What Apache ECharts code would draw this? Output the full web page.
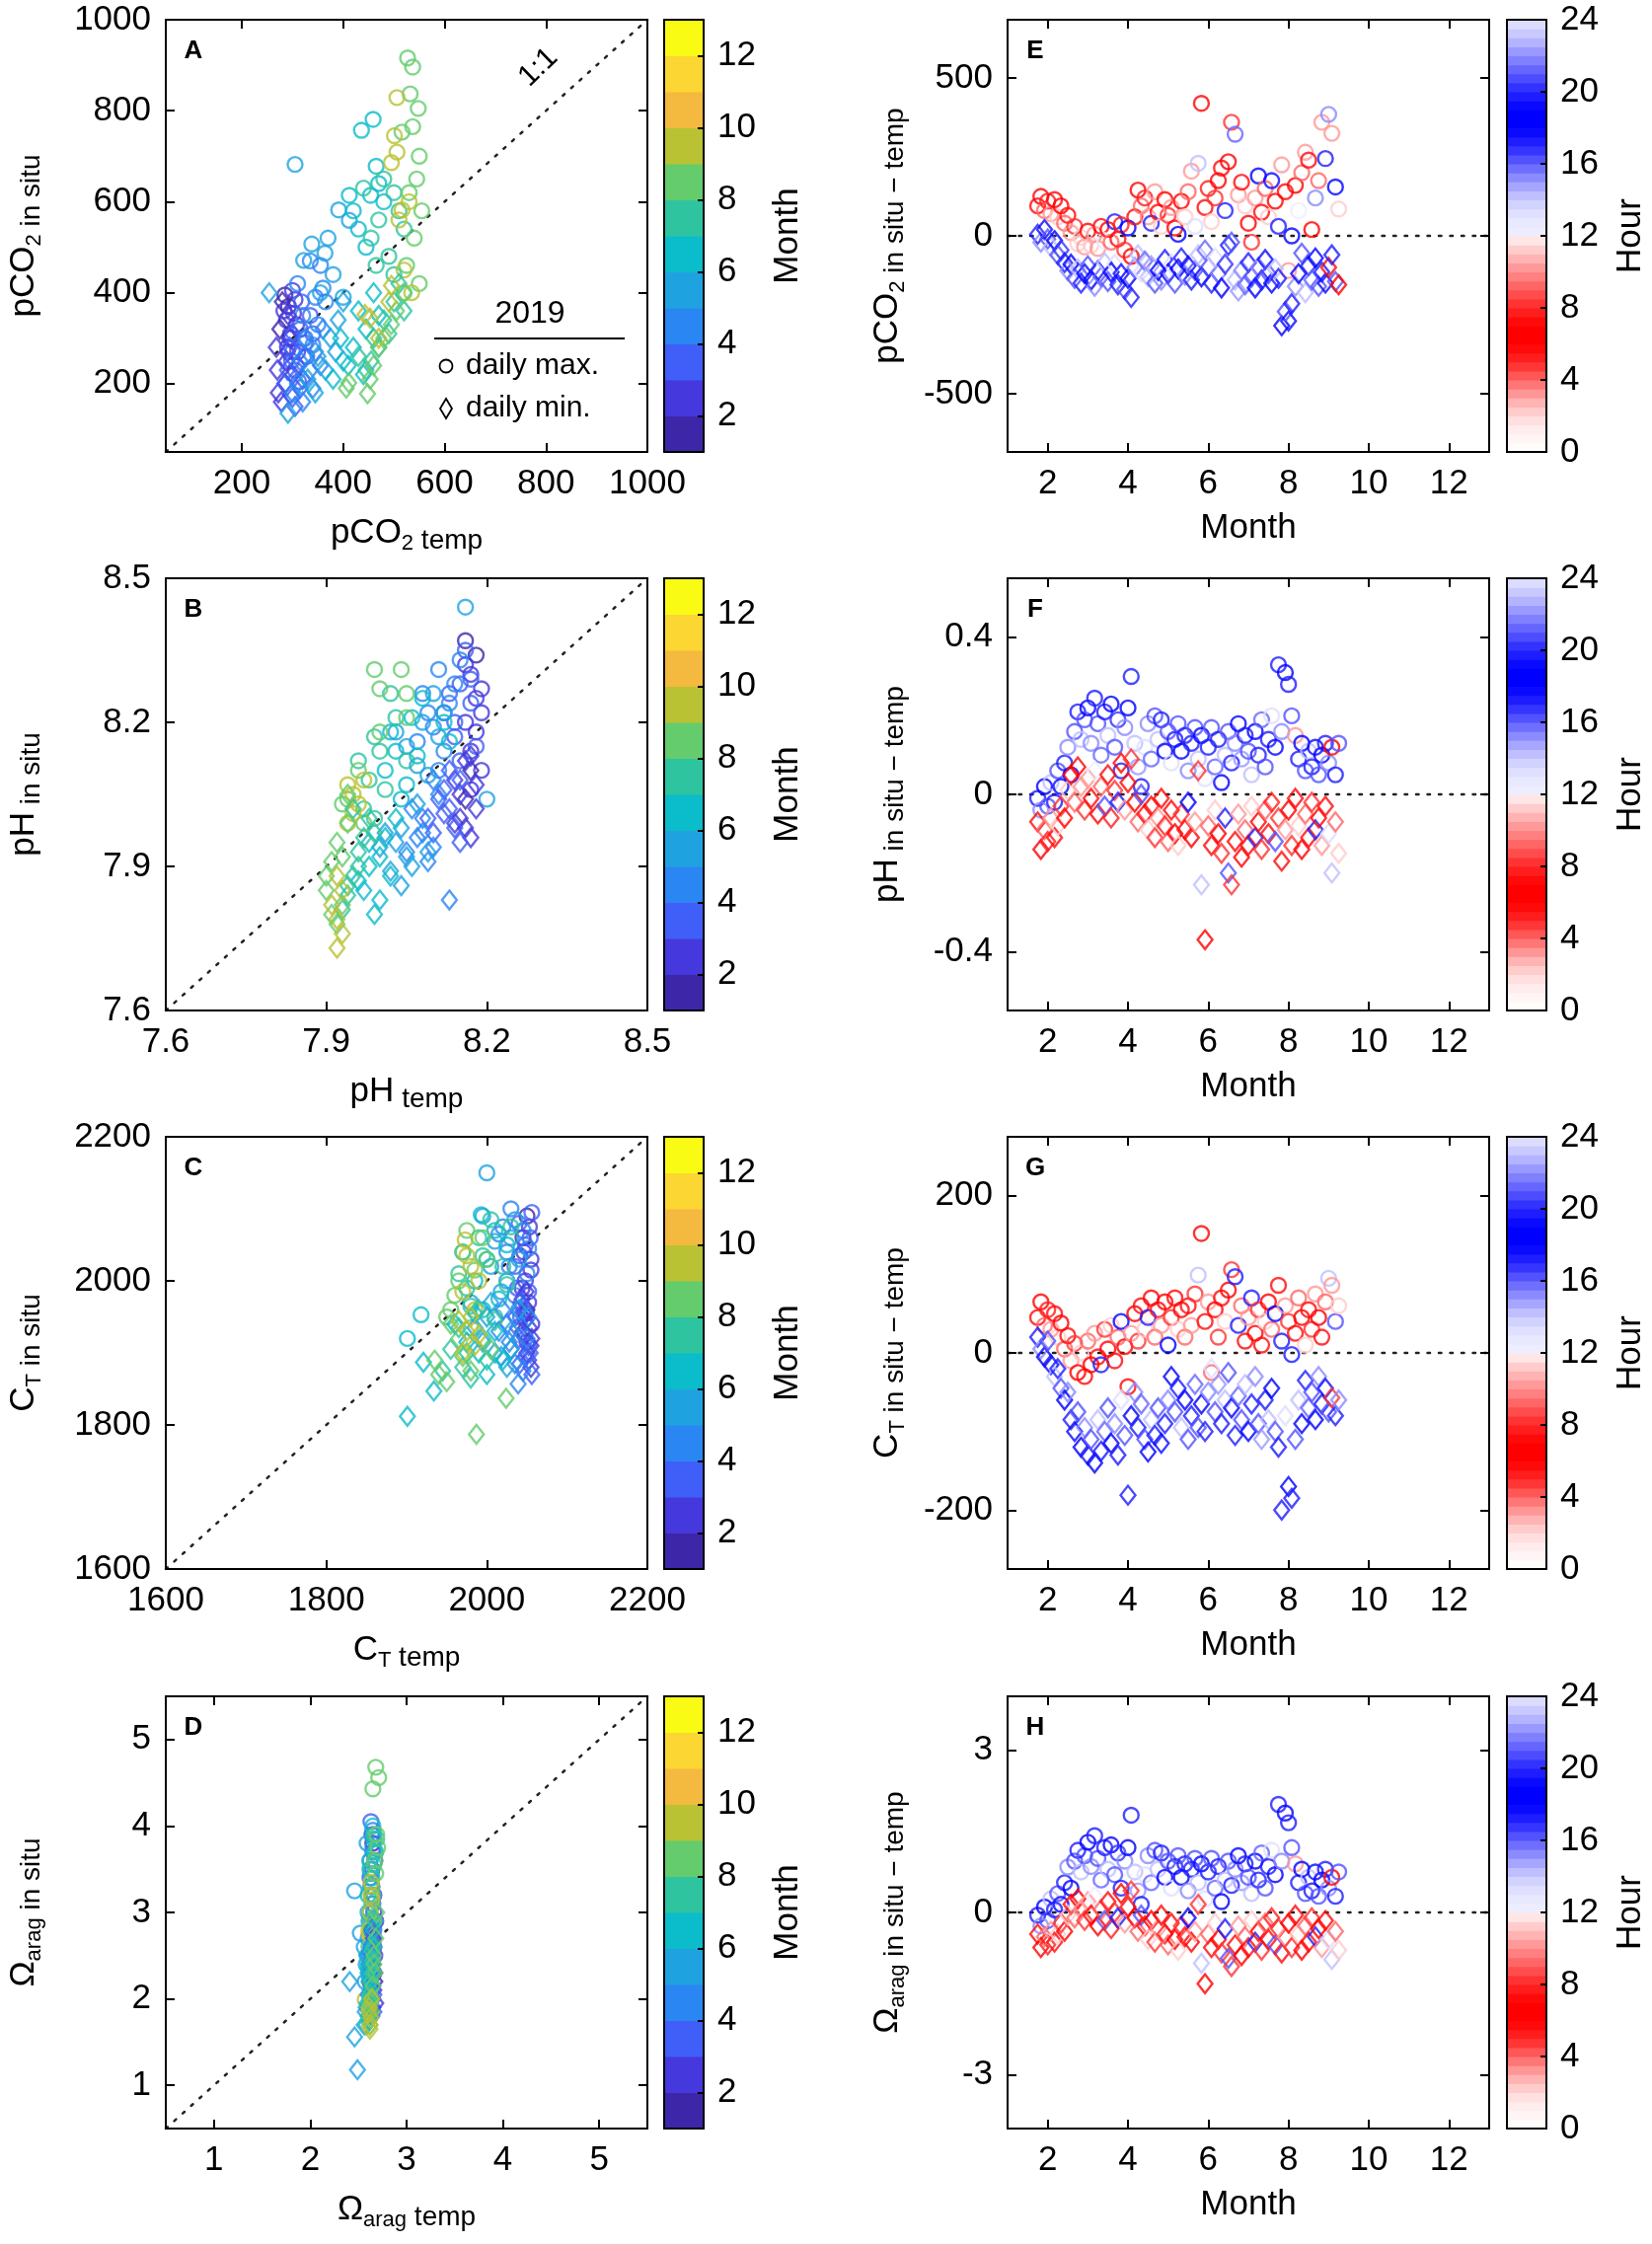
<!DOCTYPE html>
<html>
<head>
<meta charset="utf-8">
<title>In situ vs temperature-normalised carbonate parameters, 2019</title>
<script src="https://cdn.jsdelivr.net/npm/echarts@6/dist/echarts.min.js"></script>
<style>
  html, body { margin: 0; padding: 0; background: #fff; }
  #chart { width: 1674px; height: 2274px; }
</style>
</head>
<body>
<div id="chart"></div>
<script>
// ---------------- data ----------------
// left panels: [temp-normalised value, in situ value, month]
var aMax = [
  [285,395,1.8],[292,370,1.9],[300,405,2.0],[288,340,2.1],[305,385,2.2],[296,310,2.3],[283,360,2.4],[308,330,2.5],[290,280,2.6],[302,355,2.7],[295,300,2.8],[310,270,2.9],
  [298,250,3.0],[315,320,3.1],[305,230,3.2],[325,290,3.3],[300,270,3.4],[335,350,3.5],[312,205,3.6],[328,260,3.7],[318,380,3.8],[340,310,3.9],
  [310,420,4.0],[345,390,4.1],[325,300,4.2],[355,460,4.3],[335,470,4.4],[360,410,4.5],[320,350,4.6],[350,330,4.7],[340,285,4.8],[365,380,4.9],
  [305,682,5.0],[338,507,5.1],[322,471,5.2],[364,487,5.3],[391,582,5.4],[412,559,5.5],[380,440,5.6],[355,400,5.7],[400,390,5.8],[370,520,5.9],
  [436,757,6.0],[459,781,6.1],[412,614,6.2],[465,678,6.3],[454,614,6.4],[430,540,6.5],[470,640,6.6],[445,500,6.7],[420,580,6.8],[480,600,6.9],
  [440,630,7.0],[470,560,7.1],[500,620,7.2],[455,520,7.3],[490,480,7.4],[510,580,7.5],[480,650,7.6],[520,540,7.7],[465,460,7.8],[500,440,7.9],
  [527,916,8.0],[537,896,8.1],[532,837,8.15],[548,805,8.2],[537,765,8.3],[516,753,8.35],[550,700,8.4],[545,650,8.5],[530,620,8.55],[555,580,8.6],[540,520,8.7],[525,460,8.75],[550,420,8.8],[520,400,8.9],
  [506,829,9.0],[501,745,9.05],[495,686,9.1],[516,582,9.12],[506,709,9.15],[530,600,9.2],[520,450,9.22],[535,400,9.25],[510,560,9.3]
];
var aMin = [
  [280,380,1.8],[275,320,1.9],[290,270,2.0],[270,230,2.1],[285,200,2.2],[295,300,2.3],[272,180,2.4],[288,250,2.5],[278,160,2.6],[300,220,2.7],[268,280,2.8],[292,350,2.9],
  [285,200,3.0],[300,170,3.1],[310,240,3.2],[295,280,3.3],[320,210,3.4],[305,150,3.5],[290,230,3.6],[325,260,3.7],[315,190,3.8],[300,310,3.9],
  [300,180,4.0],[320,160,4.1],[335,230,4.2],[310,200,4.3],[345,270,4.4],[325,300,4.5],[355,240,4.6],[315,250,4.7],[340,190,4.8],[360,320,4.9],
  [291,135,5.0],[254,400,5.1],[330,210,5.2],[350,260,5.3],[375,300,5.4],[345,180,5.5],[390,340,5.6],[365,230,5.7],[385,270,5.8],[400,380,5.9],
  [395,300,6.0],[410,240,6.1],[430,360,6.2],[380,210,6.3],[445,320,6.4],[420,280,6.5],[460,400,6.6],[400,250,6.7],[440,220,6.8],[470,350,6.9],
  [430,260,7.0],[460,300,7.1],[480,340,7.2],[445,230,7.3],[500,380,7.4],[470,280,7.5],[510,420,7.6],[455,250,7.7],[490,310,7.8],[520,360,7.9],
  [406,190,8.0],[453,210,8.1],[448,178,8.2],[411,202,8.3],[470,280,8.4],[495,330,8.5],[460,240,8.6],[520,400,8.7],[480,300,8.8],[505,360,8.9],
  [453,344,9.0],[495,416,9.1],[443,352,9.2],[470,300,9.25],[490,380,9.3]
];
var bMax = [
  [8.16,8.37,1.8],[8.18,8.34,1.9],[8.19,8.27,2.0],[8.17,8.30,2.1],[8.19,8.22,2.2],[8.18,8.25,2.3],[8.16,8.32,2.4],[8.18,8.18,2.5],[8.17,8.14,2.6],[8.19,8.10,2.7],[8.16,8.20,2.8],[8.17,8.06,2.9],
  [8.15,8.28,3.0],[8.17,8.24,3.1],[8.14,8.20,3.2],[8.16,8.35,3.3],[8.13,8.26,3.4],[8.18,8.15,3.5],[8.15,8.12,3.6],[8.12,8.22,3.7],[8.17,8.29,3.8],[8.14,8.17,3.9],
  [8.11,8.31,4.0],[8.13,8.24,4.1],[8.10,8.19,4.2],[8.14,8.28,4.3],[8.09,8.22,4.4],[8.12,8.14,4.5],[8.08,8.26,4.6],[8.11,8.10,4.7],[8.15,8.33,4.8],[8.07,8.16,4.9],
  [8.16,8.44,5.0],[8.20,8.04,5.1],[8.08,8.20,5.2],[8.10,8.26,5.3],[8.05,8.15,5.4],[8.12,8.22,5.5],[8.07,8.11,5.6],[8.03,8.18,5.7],[8.09,8.09,5.8],[8.11,8.17,5.9],
  [8.06,8.21,6.0],[8.03,8.14,6.1],[8.08,8.25,6.2],[8.01,8.10,6.3],[8.05,8.07,6.4],[8.12,8.20,6.5],[8.02,8.18,6.6],[8.07,8.13,6.7],[8.13,8.16,6.8],[8.04,8.04,6.9],
  [8.00,8.14,7.0],[7.98,8.08,7.1],[8.03,8.21,7.2],[7.99,8.17,7.3],[8.05,8.12,7.4],[7.97,8.02,7.5],[8.01,8.06,7.6],[7.96,8.12,7.7],[8.02,8.26,7.8],[7.99,8.00,7.9],
  [7.99,8.31,8.0],[8.04,8.31,8.1],[8.00,8.27,8.2],[8.05,8.26,8.3],[8.05,8.21,8.4],[8.00,8.18,8.5],[7.96,8.10,8.6],[7.94,8.04,8.7],[7.97,7.99,8.8],[7.93,8.03,8.9],
  [7.95,8.05,9.0],[7.96,8.03,9.05],[7.94,7.99,9.1],[7.97,8.08,9.15],[7.95,8.01,9.2],[7.94,8.07,9.3]
];
var bMin = [
  [8.17,8.10,1.8],[8.16,8.04,1.9],[8.18,8.07,2.0],[8.15,8.00,2.1],[8.17,8.13,2.2],[8.16,7.98,2.3],[8.18,8.02,2.4],[8.14,8.08,2.5],[8.17,7.96,2.6],[8.15,8.05,2.7],[8.16,8.12,2.8],[8.14,7.99,2.9],
  [8.13,8.02,3.0],[8.15,7.95,3.1],[8.12,8.06,3.2],[8.14,7.98,3.3],[8.11,8.04,3.4],[8.13,8.10,3.5],[8.10,7.97,3.6],[8.12,8.01,3.7],[8.15,8.08,3.8],[8.09,8.00,3.9],
  [8.10,7.94,4.0],[8.08,8.00,4.1],[8.11,8.05,4.2],[8.07,7.96,4.3],[8.09,7.91,4.4],[8.13,7.83,4.5],[8.06,8.02,4.6],[8.08,7.97,4.7],[8.05,7.93,4.8],[8.10,8.08,4.9],
  [8.09,7.93,5.0],[8.04,7.98,5.1],[8.06,7.90,5.2],[8.03,7.95,5.3],[8.07,8.03,5.4],[8.02,7.89,5.5],[8.05,7.92,5.6],[8.01,7.97,5.7],[8.04,7.86,5.8],[8.00,7.94,5.9],
  [8.02,7.88,6.0],[7.99,7.80,6.1],[8.00,7.92,6.2],[7.97,7.85,6.3],[8.01,7.96,6.4],[7.98,7.90,6.5],[8.03,8.00,6.6],[7.96,7.87,6.7],[8.00,7.83,6.8],[7.98,7.95,6.9],
  [7.96,7.90,7.0],[7.94,7.84,7.1],[7.97,7.96,7.2],[7.95,7.88,7.3],[7.98,8.00,7.4],[7.93,7.81,7.5],[7.96,7.93,7.6],[7.94,7.86,7.7],[7.99,7.97,7.8],[7.95,8.02,7.9],
  [7.92,7.95,8.0],[7.90,7.88,8.1],[7.93,7.82,8.2],[7.91,7.91,8.3],[7.94,7.99,8.4],[7.92,7.78,8.5],[7.90,7.85,8.6],[7.93,7.92,8.7],[7.91,7.80,8.8],[7.94,8.05,8.9],
  [7.92,7.73,9.0],[7.93,7.76,9.05],[7.91,7.82,9.1],[7.92,7.79,9.15],[7.93,7.85,9.2],[7.92,7.88,9.3]
];
var cMax = [
  [2050,2090,1.8],[2045,2060,1.9],[2055,2030,2.0],[2048,2000,2.1],[2052,1970,2.2],[2044,1990,2.3],[2056,1940,2.4],[2050,1915,2.5],[2046,2040,2.6],[2053,2075,2.7],[2049,1955,2.8],[2055,2015,2.9],
  [2040,2080,3.0],[2048,2050,3.1],[2035,2020,3.2],[2052,1985,3.3],[2042,1950,3.4],[2056,2095,3.5],[2038,1990,3.6],[2047,1925,3.7],[2054,2060,3.8],[2041,2035,3.9],
  [2030,2100,4.0],[2045,2070,4.1],[2025,2040,4.2],[2050,2010,4.3],[2035,1980,4.4],[2020,2075,4.5],[2040,1960,4.6],[2028,2020,4.7],[2052,2045,4.8],[2015,2065,4.9],
  [2000,2150,5.0],[2035,2085,5.1],[2010,2055,5.2],[2025,2000,5.3],[1995,2090,5.4],[2040,2030,5.5],[1980,1970,5.6],[2018,1985,5.7],[2030,2060,5.8],[2005,2020,5.9],
  [1901,1920,6.0],[1918,1953,6.1],[1993,2092,6.2],[2010,2070,6.3],[2000,2030,6.4],[1985,2000,6.5],[2025,2050,6.6],[1970,2040,6.7],[2015,1975,6.8],[1995,1960,6.9],
  [2005,2085,7.0],[1990,2060,7.1],[2020,2020,7.2],[1975,1990,7.3],[2030,2075,7.4],[1965,2010,7.5],[2010,1950,7.6],[1995,2035,7.7],[2025,1995,7.8],[1980,1965,7.9],
  [1960,1980,8.0],[1970,2040,8.1],[1985,2015,8.2],[1955,1960,8.3],[1995,2060,8.4],[1965,2000,8.5],[1980,1935,8.6],[2000,2030,8.7],[1950,1950,8.8],[1975,2070,8.9],
  [1973,2057,9.0],[1980,2020,9.05],[1970,1985,9.1],[1985,1960,9.15],[1975,2035,9.2],[1990,2000,9.3]
];
var cMin = [
  [2050,1960,1.8],[2045,1930,1.9],[2055,1910,2.0],[2048,1945,2.1],[2052,1890,2.2],[2044,1975,2.3],[2056,1920,2.4],[2050,1900,2.5],[2046,1955,2.6],[2053,1935,2.7],[2049,1985,2.8],[2055,1880,2.9],
  [2040,1920,3.0],[2048,1895,3.1],[2035,1950,3.2],[2052,1910,3.3],[2042,1970,3.4],[2056,1870,3.5],[2038,1935,3.6],[2047,1960,3.7],[2054,1900,3.8],[2041,1885,3.9],
  [2030,1905,4.0],[2039,1857,4.1],[2025,1940,4.2],[2050,1920,4.3],[2035,1885,4.4],[2020,1960,4.5],[2045,1875,4.6],[2028,1915,4.7],[2052,1950,4.8],[2015,1930,4.9],
  [2010,1900,5.0],[2030,1930,5.1],[2000,1950,5.2],[2025,1880,5.3],[1995,1915,5.4],[2040,1960,5.5],[1985,1935,5.6],[2018,1895,5.7],[2005,1970,5.8],[2030,1905,5.9],
  [1934,1847,6.0],[1901,1812,6.1],[1921,1887,6.2],[1990,1900,6.3],[2010,1930,6.4],[1975,1915,6.5],[2000,1870,6.6],[1960,1940,6.7],[2020,1890,6.8],[1985,1955,6.9],
  [1970,1880,7.0],[1995,1920,7.1],[1955,1905,7.2],[2010,1945,7.3],[1980,1865,7.4],[1965,1935,7.5],[2000,1890,7.6],[1945,1875,7.7],[1990,1960,7.8],[1975,1900,7.9],
  [1987,1787,8.0],[2024,1837,8.1],[1950,1860,8.2],[1935,1890,8.3],[1965,1920,8.4],[1980,1875,8.5],[1955,1940,8.6],[2005,1905,8.7],[1940,1870,8.8],[1970,1895,8.9],
  [1975,1930,9.0],[1985,1910,9.05],[1965,1945,9.1],[1990,1925,9.15],[1980,1950,9.2],[1970,1900,9.3]
];
var dMax = [
  [2.65,3.8,1.8],[2.67,3.6,1.9],[2.64,3.3,2.0],[2.66,3.0,2.1],[2.65,2.7,2.2],[2.67,2.5,2.3],[2.64,3.5,2.4],[2.66,2.3,2.5],[2.65,3.9,2.6],[2.68,2.9,2.7],[2.64,2.6,2.8],[2.66,3.2,2.9],
  [2.63,4.05,3.0],[2.65,3.7,3.1],[2.62,3.4,3.2],[2.66,2.8,3.3],[2.63,2.4,3.4],[2.65,3.1,3.5],[2.62,2.2,3.6],[2.64,3.9,3.7],[2.66,2.6,3.8],[2.63,3.3,3.9],
  [2.62,3.6,4.0],[2.64,2.9,4.1],[2.61,2.5,4.2],[2.65,3.95,4.3],[2.62,2.2,4.4],[2.64,3.2,4.5],[2.60,2.7,4.6],[2.63,3.45,4.7],[2.61,2.35,4.8],[2.65,3.75,4.9],
  [2.46,3.25,5.0],[2.52,2.76,5.1],[2.60,3.0,5.2],[2.58,2.4,5.3],[2.62,3.5,5.4],[2.57,2.2,5.5],[2.61,2.9,5.6],[2.59,3.8,5.7],[2.56,2.6,5.8],[2.63,3.3,5.9],
  [2.62,3.6,6.0],[2.65,4.0,6.1],[2.60,3.2,6.2],[2.63,2.8,6.3],[2.66,3.85,6.4],[2.59,2.5,6.5],[2.64,3.4,6.6],[2.61,2.3,6.7],[2.67,3.7,6.8],[2.62,3.0,6.9],
  [2.66,3.9,7.0],[2.63,3.5,7.1],[2.68,3.7,7.2],[2.61,2.6,7.3],[2.65,3.2,7.4],[2.69,3.85,7.5],[2.62,2.9,7.6],[2.66,3.55,7.7],[2.60,2.4,7.8],[2.64,3.1,7.9],
  [2.68,4.68,8.0],[2.71,4.56,8.1],[2.65,4.43,8.2],[2.69,3.9,8.3],[2.67,3.6,8.4],[2.70,3.75,8.5],[2.64,3.3,8.6],[2.66,2.9,8.7],[2.68,3.45,8.8],[2.63,2.7,8.9],
  [2.63,3.2,9.0],[2.62,3.0,9.05],[2.61,2.8,9.1],[2.63,3.35,9.12],[2.64,3.15,9.15],[2.61,2.75,9.2],[2.64,2.1,9.22],[2.62,2.2,9.25],[2.57,1.99,9.3]
];
var dMin = [
  [2.65,2.4,1.8],[2.67,2.2,1.9],[2.64,2.0,2.0],[2.66,2.6,2.1],[2.65,1.9,2.2],[2.67,2.3,2.3],[2.64,2.8,2.4],[2.66,2.1,2.5],[2.65,2.5,2.6],[2.68,1.95,2.7],[2.64,2.35,2.8],[2.66,2.7,2.9],
  [2.63,2.3,3.0],[2.65,2.0,3.1],[2.62,2.55,3.2],[2.66,1.85,3.3],[2.63,2.15,3.4],[2.65,2.75,3.5],[2.62,1.9,3.6],[2.64,2.45,3.7],[2.66,2.05,3.8],[2.63,2.6,3.9],
  [2.62,2.2,4.0],[2.64,1.8,4.1],[2.61,2.4,4.2],[2.65,2.65,4.3],[2.62,1.95,4.4],[2.64,2.3,4.5],[2.60,2.05,4.6],[2.63,2.5,4.7],[2.61,1.75,4.8],[2.65,2.15,4.9],
  [2.41,2.2,5.0],[2.46,1.56,5.1],[2.49,1.18,5.2],[2.58,1.9,5.3],[2.60,2.3,5.4],[2.56,1.7,5.5],[2.62,2.05,5.6],[2.59,2.5,5.7],[2.57,1.85,5.8],[2.61,2.2,5.9],
  [2.62,2.1,6.0],[2.60,1.8,6.1],[2.63,2.4,6.2],[2.59,1.95,6.3],[2.64,2.6,6.4],[2.61,2.25,6.5],[2.58,1.7,6.6],[2.62,2.0,6.7],[2.65,2.8,6.8],[2.60,2.35,6.9],
  [2.64,2.3,7.0],[2.61,1.9,7.1],[2.66,2.6,7.2],[2.62,2.05,7.3],[2.65,2.45,7.4],[2.60,1.75,7.5],[2.63,2.2,7.6],[2.67,2.9,7.7],[2.61,1.95,7.8],[2.64,2.55,7.9],
  [2.66,2.4,8.0],[2.63,2.0,8.1],[2.68,2.7,8.2],[2.64,1.85,8.3],[2.67,2.3,8.4],[2.62,1.7,8.5],[2.65,2.15,8.6],[2.69,3.0,8.7],[2.63,1.95,8.8],[2.66,2.5,8.9],
  [2.63,1.78,9.0],[2.62,1.7,9.05],[2.62,1.65,9.1],[2.61,1.9,9.15],[2.64,2.0,9.2],[2.61,1.85,9.3]
];

// right panels: one value per sampled day, and the hour at which it occurred
var dayMonth = [1.75,1.83,1.92,2.00,2.08,2.17,2.25,2.33,2.42,2.50,
  2.58,2.67,2.75,2.83,2.92,3.00,3.08,3.17,3.25,3.33,
  3.42,3.50,3.58,3.67,3.75,3.83,3.92,4.00,4.08,4.17,
  4.25,4.33,4.42,4.50,4.58,4.67,4.75,4.83,4.92,5.00,
  5.08,5.17,5.25,5.33,5.42,5.50,5.58,5.67,5.75,5.83,
  5.92,6.00,6.08,6.17,6.25,6.33,6.42,6.50,6.58,6.67,
  6.75,6.83,6.92,7.00,7.08,7.17,7.25,7.33,7.42,7.50,
  7.58,7.67,7.75,7.83,7.92,8.00,8.08,8.17,8.25,8.33,
  8.42,8.50,8.58,8.67,8.75,8.83,8.92,9.00,9.08,9.17,9.25];

var eMax = [95,125,80,110,70,115,60,95,40,65, 10,30,-25,-5,-35,15,-30,5,-40,30, -15,20,-20,45,-10,35,-45,25,-65,60,
  145,95,120,60,40,140,75,30,115,65, 90,25,5,110,60,140,205,30,230,420, 90,150,45,120,175,215,80,235,360,322,
  130,170,95,40,-20,120,190,75,150,60, 175,110,30,225,140,-110,0,160,80,200, 265,240,20,120,175,360,245,385,325,155, 85];
var eMaxHour = [7,6,9,5,10,7,11,6,9,7, 10,8,11,2,10,7,11,3,10,7, 12,6,9,17,7,5,8,18,6,7,
  6,9,5,10,17,10,7,11,6,8, 10,7,18,6,11,9,10,13,14,6, 7,5,11,8,6,7,17,6,8,21,
  10,7,11,6,8,10,18,7,9,11, 19,6,17,10,7,10,18,6,12,9, 10,7,6,15,9,10,17,15,10,18, 11];
var eMin = [5,-20,20,-10,-35,-15,-60,-45,-85,-110, -90,-135,-105,-150,-120,-95,-140,-160,-110,-130, -85,-145,-115,-90,-155,-120,-170,-135,-195,-100,
  -60,-115,-80,-130,-95,-150,-110,-140,-75,-120, -90,-150,-105,-70,-125,-95,-140,-110,-60,-130, -45,-100,-150,-70,-120,-165,-90,-30,-20,-140,
  -175,-110,-155,-85,-130,-165,-100,-140,-75,-120, -150,-105,-135,-285,-240,-270,-215,-160,-120,-55, -180,-95,-140,-70,-160,-115,-150,-100,-60,-145, -155];
var eMinHour = [17,15,19,16,14,18,16,20,17,15, 18,16,14,17,19,16,18,15,17,21, 14,16,18,13,17,19,16,18,17,15,
  14,13,21,14,22,16,18,15,17,19, 13,16,18,17,15,19,17,16,14,18, 21,16,17,13,15,18,20,17,16,14,
  22,15,21,17,16,18,15,17,19,16, 18,14,17,18,16,19,17,15,18,16, 14,17,21,18,16,17,19,7,17,16, 6];

var fMax = [-0.01,-0.04,0.02,-0.03,0.03,-0.02,0.06,0.02,0.08,0.12, 0.05,0.16,0.21,0.14,0.19,0.22,0.13,0.245,0.18,0.10,
  0.21,0.15,0.23,0.12,0.19,0.06,0.17,0.22,0.30,0.13, 0.07,0.02,0.12,0.18,0.09,0.20,0.14,0.19,0.11,0.16,
  0.08,0.14,0.18,0.11,0.15,0.06,0.13,0.17,0.09,0.15, 0.04,0.12,0.17,0.07,0.14,0.03,0.10,0.16,0.08,0.13,
  0.18,0.09,0.15,0.11,0.05,0.16,0.10,0.19,0.07,0.14, 0.20,0.12,0.33,0.16,0.31,0.28,0.20,0.15,0.09,0.13,
  0.06,0.11,0.07,0.12,0.05,0.10,0.13,0.08,0.12,0.05, 0.13];
var fMin = [-0.07,-0.14,-0.09,-0.12,-0.06,-0.11,-0.08,-0.03,-0.06,0.01, 0.05,-0.02,0.07,0.02,-0.04,0.04,-0.01,0.06,-0.05,0.02,
  -0.03,0.05,-0.06,0.01,-0.02,0.08,-0.04,0.03,0.09,-0.02, -0.07,0.00,-0.05,-0.09,-0.03,-0.11,-0.06,-0.01,-0.08,-0.12,
  -0.04,-0.10,-0.13,-0.05,-0.09,-0.02,-0.11,-0.07,0.06,-0.23, -0.37,-0.08,-0.13,-0.04,-0.10,-0.15,-0.06,-0.20,-0.23,-0.12,
  -0.05,-0.16,-0.09,-0.13,-0.03,-0.11,-0.07,-0.14,-0.04,-0.10, -0.02,-0.12,-0.06,-0.17,-0.09,-0.04,-0.13,-0.01,-0.08,-0.14,
  -0.05,-0.11,-0.02,-0.09,-0.06,-0.13,-0.03,-0.10,-0.20,-0.07, -0.15];
// hours of the pH / aragonite extremes (the two coincide)
var phMaxHour = [17,15,18,16,14,17,16,19,17,15, 18,16,17,14,16,18,15,17,16,21, 17,14,18,16,20,17,15,18,17,14,
  22,17,13,15,21,16,14,17,18,16, 13,17,16,18,17,15,17,16,14,18, 13,17,16,21,17,18,14,16,17,15,
  18,22,17,16,14,18,17,21,16,17, 13,18,17,15,18,17,16,10,17,18, 16,14,17,19,16,18,17,15,6,17, 16];
var phMinHour = [7,6,9,5,10,7,2,8,6,11, 7,9,6,3,8,10,7,12,6,9, 16,7,5,8,17,6,10,7,8,6,
  9,16,7,11,6,8,10,7,5,9, 7,6,11,8,7,18,6,10,8,14, 6,9,7,11,6,8,17,16,8,7,
  10,6,9,7,11,17,6,8,9,7, 5,16,8,7,10,6,8,7,11,6, 9,7,8,17,6,10,7,13,14,9, 11];

var gMax = [45,65,35,55,30,50,20,38,5,22, -10,12,-25,0,-30,15,-15,25,-5,-15, 30,5,35,-10,20,40,8,-43,25,50,
  15,60,30,45,70,20,55,35,65,10, 45,70,30,55,20,60,35,75,99,152, 40,65,-25,55,20,70,40,80,106,97,
  35,60,15,45,70,25,55,10,40,65, 30,50,86,15,60,40,-2,25,70,45, 10,55,30,75,45,20,65,95,86,40, 60];
var gMaxHour = [7,6,9,5,10,7,11,6,9,7, 10,8,6,11,7,9,6,10,7,17, 8,6,11,7,9,18,6,7,10,6,
  8,7,11,17,6,9,7,10,6,18, 8,7,11,6,9,7,10,8,14,6, 7,10,9,6,8,7,11,6,8,17,
  17,9,7,10,17,6,8,7,11,6, 9,18,7,17,10,8,17,7,9,6, 11,7,8,10,6,7,9,14,10,16, 11];
var gMin = [20,5,-5,15,-15,-30,-20,-45,-60,-50, -85,-100,-75,-120,-95,-130,-110,-140,-85,-125, -100,-70,-115,-90,-130,-60,-105,-181,-80,-50,
  -95,-65,-110,-126,-85,-105,-70,-115,-90,-60, -30,-75,-45,-95,-60,-110,-80,-40,-95,-65, -100,-50,-20,-75,-40,-90,-60,-25,-70,-105,
  -55,-85,-40,-100,-65,-30,-90,-110,-60,-85, -45,-100,-120,-200,-80,-170,-185,-110,-60,-90, -35,-70,-50,-85,-30,-65,-45,-75,-57,-80, -60];
var gMinHour = [17,15,18,16,19,14,17,16,18,15, 17,19,16,18,15,17,16,18,14,17, 21,16,18,15,17,13,16,17,18,15,
  17,21,16,18,14,17,16,19,17,15, 18,16,17,14,18,16,17,21,16,18, 17,15,13,16,22,17,14,16,18,17,
  21,16,14,18,17,15,16,22,17,14, 18,16,17,17,13,18,17,16,14,18, 17,21,16,18,15,17,19,16,8,17, 15];

var hMax = [-0.05,-0.25,0.10,-0.15,0.25,0.05,0.35,0.15,0.55,0.84, 0.45,0.95,1.15,0.75,1.05,1.30,0.85,1.42,1.00,0.60,
  1.20,0.80,1.25,0.70,1.10,0.45,0.95,1.20,1.80,0.75, 0.40,0.15,0.70,1.05,0.55,1.15,0.80,1.10,0.65,0.95,
  0.45,0.85,1.05,0.65,0.90,0.40,0.80,1.00,0.55,0.90, 0.25,0.75,1.00,0.45,0.85,0.20,0.60,0.95,0.50,0.80,
  1.05,0.55,0.90,0.65,0.35,0.95,0.60,1.10,0.45,0.85, 1.15,0.70,2.00,0.95,1.84,1.66,1.20,0.90,0.55,0.80,
  0.35,0.65,0.40,0.75,0.30,0.60,0.80,0.45,0.65,0.30, 0.75];
var hMin = [-0.40,-0.65,-0.45,-0.60,-0.35,-0.55,-0.40,-0.20,-0.35,-0.05, 0.15,-0.10,0.25,0.05,-0.15,0.20,-0.05,0.30,-0.25,0.05,
  -0.15,0.20,-0.30,0.00,-0.10,0.35,-0.20,0.10,0.40,-0.10, -0.35,-0.05,-0.25,-0.50,-0.15,-0.55,-0.30,-0.05,-0.40,-0.60,
  -0.20,-0.50,-0.70,-0.25,-0.45,-0.10,-0.55,-0.35,0.15,-0.94, -1.32,-0.40,-0.65,-0.20,-0.50,-0.75,-0.30,-0.85,-1.00,-0.60,
  -0.25,-0.80,-0.45,-0.65,-0.15,-0.55,-0.35,-0.70,-0.20,-0.50, -0.10,-0.60,-0.30,-0.75,-0.45,-0.20,-0.65,-0.05,-0.40,-0.70,
  -0.25,-0.55,-0.10,-0.45,-0.30,-0.65,-0.15,-0.50,-0.87,-0.35, -0.70];

// tick labels
var aTicks = [200, 400, 600, 800, 1000];
var bTicks = [7.6, 7.9, 8.2, 8.5];
var cTicks = [1600, 1800, 2000, 2200];
var dTicks = [1, 2, 3, 4, 5];
var eTicks = [-500, 0, 500];
var fTicks = [-0.4, 0, 0.4];
var gTicks = [-200, 0, 200];
var hTicks = [-3, 0, 3];
var monthTicks = [2, 4, 6, 8, 10, 12];
var hourTicks = [0, 4, 8, 12, 16, 20, 24];

// ---------------- styles / layout ----------------
var FONT = "'Liberation Sans', Arial, Helvetica, sans-serif";
var monthColors = ['#3e26a8','#4538dc','#3f5ff8','#2a86f3','#1fa3e0','#0bbcca',
                   '#2ec4a0','#64cc6c','#b8c232','#f4b93f','#fcd632','#f9fb15'];
function monthColor(m) {
  var i = Math.floor(m) - 1;
  return monthColors[Math.max(0, Math.min(11, i))];
}
// diverging hour map: white at midnight/noon, red around 6 h, blue around 18 h
var redRamp  = [0, 0.05, 0.15, 0.35, 0.6, 0.85, 1, 1, 0.85, 0.65, 0.45, 0.25, 0.05];
var blueRamp = [0.06, 0.1, 0.2, 0.4, 0.62, 0.85, 1, 1, 0.85, 0.65, 0.45, 0.25, 0.1];
function hourColor(h) {
  var step = Math.min(47, Math.max(0, Math.floor(h * 2)));
  var hc = (step + 0.5) / 2;
  var blue = hc >= 12;
  var u = blue ? hc - 12 : hc;
  var ramp = blue ? blueRamp : redRamp;
  var k = Math.floor(u), f = u - k;
  var t = ramp[k] + (ramp[k + 1] - ramp[k]) * f;
  var v = Math.round(255 * (1 - t));
  return blue ? 'rgb(' + v + ',' + v + ',255)' : 'rgb(255,' + v + ',' + v + ')';
}
var hourColors = [];
for (var hk = 0; hk < 48; hk++) hourColors.push(hourColor(hk / 2 + 0.01));

var rowTop = [20, 586, 1152, 1719];
var PW = 488, PH = 438, BW = 40;
var leftX = 168, leftBarX = 673, rightX = 1021, rightBarX = 1527;

var nameRich = {
  m: { fontSize: 35, lineHeight: 44, fontFamily: FONT, color: '#000' },
  s: { fontSize: 22, lineHeight: 20, verticalAlign: 'bottom', fontFamily: FONT, color: '#000' },
  t: { fontSize: 28, lineHeight: 38, verticalAlign: 'bottom', fontFamily: FONT, color: '#000' }
};
var nameStyle = { rich: nameRich, fontSize: 35, fontFamily: FONT, color: '#000' };

var grids = [], xAxes = [], yAxes = [], series = [], graphics = [];

function plain(v) { return String(v); }
function lineOnly(gi, pos, lo, hi) {
  return {
    type: 'value', gridIndex: gi, position: pos, min: lo, max: hi, z: 5,
    axisLine: { show: true, onZero: false, lineStyle: { color: '#000', width: 2 } },
    axisTick: { show: false }, axisLabel: { show: false }, splitLine: { show: false }
  };
}
function ticked(gi, pos, lo, hi, ticks, len, labels) {
  var a = lineOnly(gi, pos, lo, hi);
  a.axisTick = { show: true, inside: true, length: len, customValues: ticks,
                 lineStyle: { color: '#000', width: 2 } };
  if (labels) {
    a.axisLabel = { show: true, customValues: ticks, formatter: plain, fontSize: 35,
                    fontFamily: FONT, color: '#000', margin: 15 };
  }
  return a;
}

var refLine = { color: '#222', width: 2.5, type: [2.5, 9], cap: 'round' };

function scatterSeries(gi, items, symbol, size) {
  return {
    type: 'scatter', xAxisIndex: 2 * gi, yAxisIndex: 2 * gi, data: items,
    symbol: symbol, symbolSize: size, silent: true,
    itemStyle: { color: 'rgba(0,0,0,0)', borderWidth: 2.4 }
  };
}
function monthItems(list) {
  return list.map(function (p) {
    return { value: [p[0], p[1]], itemStyle: { borderColor: monthColor(p[2]) } };
  });
}
function hourItems(vals, hours) {
  return vals.map(function (v, i) {
    return { value: [dayMonth[i], v], itemStyle: { borderColor: hourColor(hours[i]) } };
  });
}

function addPlot(left, topY, p) {
  var gi = grids.length;
  grids.push({ left: left, top: topY, width: PW, height: PH, outerBoundsMode: 'none' });
  var xb = ticked(gi, 'bottom', p.xr[0], p.xr[1], p.xt, 9, true);
  xb.name = p.xname; xb.nameLocation = 'middle'; xb.nameGap = 60; xb.nameTextStyle = nameStyle;
  xAxes.push(xb, ticked(gi, 'top', p.xr[0], p.xr[1], p.xt, 9, false));
  var yl = ticked(gi, 'left', p.yr[0], p.yr[1], p.yt, 9, true);
  yl.name = p.yname; yl.nameLocation = 'middle'; yl.nameRotate = 90; yl.nameGap = p.yGap;
  yl.nameTextStyle = nameStyle;
  yAxes.push(yl, ticked(gi, 'right', p.yr[0], p.yr[1], p.yt, 9, false));
  series.push({
    type: 'line', xAxisIndex: 2 * gi, yAxisIndex: 2 * gi, data: p.ref, symbol: 'none',
    silent: true, z: 1, lineStyle: refLine
  });
  series.push(scatterSeries(gi, p.maxItems, 'circle', 15));
  series.push(scatterSeries(gi, p.minItems, 'diamond', [15, 19]));
  graphics.push({ type: 'text', x: left + 28, y: topY + 32,
    style: { text: p.letter, font: 'bold 26px ' + FONT, fill: '#000', align: 'center', verticalAlign: 'middle' } });
  return gi;
}

function addBar(left, topY, lo, hi, ticks, colors, step, title) {
  var gi = grids.length;
  grids.push({ left: left, top: topY, width: BW, height: PH, outerBoundsMode: 'none' });
  xAxes.push(lineOnly(gi, 'bottom', 0, 1), lineOnly(gi, 'top', 0, 1));
  var yr = ticked(gi, 'right', lo, hi, ticks, 6, true);
  yr.axisLabel.margin = 14;
  yr.name = title; yr.nameLocation = 'middle'; yr.nameRotate = 90; yr.nameGap = 68;
  yr.nameTextStyle = { fontSize: 35, fontFamily: FONT, color: '#000' };
  yAxes.push(lineOnly(gi, 'left', lo, hi), yr);
  var bands = colors.map(function (c, i) { return [0, lo + i * step, lo + (i + 1) * step, i]; });
  series.push({
    type: 'custom', xAxisIndex: 2 * gi, yAxisIndex: 2 * gi, data: bands, silent: true, z: 1,
    renderItem: function (params, api) {
      var p0 = api.coord([0, api.value(2)]);
      var p1 = api.coord([1, api.value(1)]);
      return { type: 'rect',
        shape: { x: p0[0], y: p0[1] - 0.5, width: p1[0] - p0[0], height: p1[1] - p0[1] + 1 },
        style: { fill: colors[api.value(3)] } };
    }
  });
}

var leftPanels = [
  { letter: 'A', xr: [50, 1000], yr: [50, 1000], xt: aTicks, yt: aTicks,
    xname: '{m|pCO}{s|2}{t| temp}', yname: '{m|pCO}{s|2}{t| in situ}', max: aMax, min: aMin },
  { letter: 'B', xr: [7.6, 8.5], yr: [7.6, 8.5], xt: bTicks, yt: bTicks,
    xname: '{m|pH}{t| temp}', yname: '{m|pH}{t| in situ}', max: bMax, min: bMin },
  { letter: 'C', xr: [1600, 2200], yr: [1600, 2200], xt: cTicks, yt: cTicks,
    xname: '{m|C}{s|T}{t| temp}', yname: '{m|C}{s|T}{t| in situ}', max: cMax, min: cMin },
  { letter: 'D', xr: [0.5, 5.5], yr: [0.5, 5.5], xt: dTicks, yt: dTicks,
    xname: '{m|Ω}{s|arag}{t| temp}', yname: '{m|Ω}{s|arag}{t| in situ}', max: dMax, min: dMin }
];
var rightPanels = [
  { letter: 'E', yr: [-685, 685], yt: eTicks, yname: '{m|pCO}{s|2}{t| in situ − temp}',
    max: eMax, maxH: eMaxHour, min: eMin, minH: eMinHour },
  { letter: 'F', yr: [-0.55, 0.55], yt: fTicks, yname: '{m|pH}{t| in situ − temp}',
    max: fMax, maxH: phMaxHour, min: fMin, minH: phMinHour },
  { letter: 'G', yr: [-275, 275], yt: gTicks, yname: '{m|C}{s|T}{t| in situ − temp}',
    max: gMax, maxH: gMaxHour, min: gMin, minH: gMinHour },
  { letter: 'H', yr: [-4, 4], yt: hTicks, yname: '{m|Ω}{s|arag}{t| in situ − temp}',
    max: hMax, maxH: phMaxHour, min: hMin, minH: phMinHour }
];

for (var r = 0; r < 4; r++) {
  var L = leftPanels[r], R = rightPanels[r], rowY = rowTop[r];
  addPlot(leftX, rowY, {
    letter: L.letter, xr: L.xr, yr: L.yr, xt: L.xt, yt: L.yt, xname: L.xname, yname: L.yname,
    yGap: 122, ref: [[L.xr[0], L.yr[0]], [L.xr[1], L.yr[1]]],
    maxItems: monthItems(L.max), minItems: monthItems(L.min)
  });
  addBar(leftBarX, rowY, 1, 13, monthTicks, monthColors, 1, 'Month');
  addPlot(rightX, rowY, {
    letter: R.letter, xr: [1, 13], yr: R.yr, xt: monthTicks, yt: R.yt, xname: 'Month', yname: R.yname,
    yGap: 100, ref: [[1, 0], [13, 0]],
    maxItems: hourItems(R.max, R.maxH), minItems: hourItems(R.min, R.minH)
  });
  addBar(rightBarX, rowY, 0, 24, hourTicks, hourColors, 0.5, 'Hour');
}

// legend inside panel A
var lx = leftX, ly = rowTop[0];
graphics.push(
  { type: 'text', x: lx + 369, y: ly + 298,
    style: { text: '2019', font: '32px ' + FONT, fill: '#000', align: 'center', verticalAlign: 'middle' } },
  { type: 'line', shape: { x1: lx + 272, y1: ly + 323, x2: lx + 465, y2: ly + 323 },
    style: { stroke: '#000', lineWidth: 2 } },
  { type: 'circle', shape: { cx: lx + 284, cy: ly + 351, r: 6.5 },
    style: { stroke: '#000', fill: 'none', lineWidth: 1.8 } },
  { type: 'text', x: lx + 304, y: ly + 351,
    style: { text: 'daily max.', font: '30px ' + FONT, fill: '#000', align: 'left', verticalAlign: 'middle' } },
  { type: 'polygon', shape: { points: [[lx + 284, ly + 384], [lx + 290, ly + 394], [lx + 284, ly + 404], [lx + 278, ly + 394]] },
    style: { stroke: '#000', fill: 'none', lineWidth: 1.8 } },
  { type: 'text', x: lx + 304, y: ly + 394,
    style: { text: 'daily min.', font: '30px ' + FONT, fill: '#000', align: 'left', verticalAlign: 'middle' } }
);

var chart = echarts.init(document.getElementById('chart'));
chart.setOption({
  animation: false,
  backgroundColor: '#fff',
  textStyle: { fontFamily: FONT },
  grid: grids,
  xAxis: xAxes,
  yAxis: yAxes,
  series: series
});

// "1:1" tag placed through panel A's own scales
var tag = chart.convertToPixel({ xAxisIndex: 0, yAxisIndex: 0 }, [785, 895]);
graphics.push({ type: 'text', x: tag[0], y: tag[1], rotation: 44 * Math.PI / 180,
  style: { text: '1:1', font: '30px ' + FONT, fill: '#000', align: 'center', verticalAlign: 'middle' } });
chart.setOption({ graphic: graphics });
</script>
</body>
</html>
